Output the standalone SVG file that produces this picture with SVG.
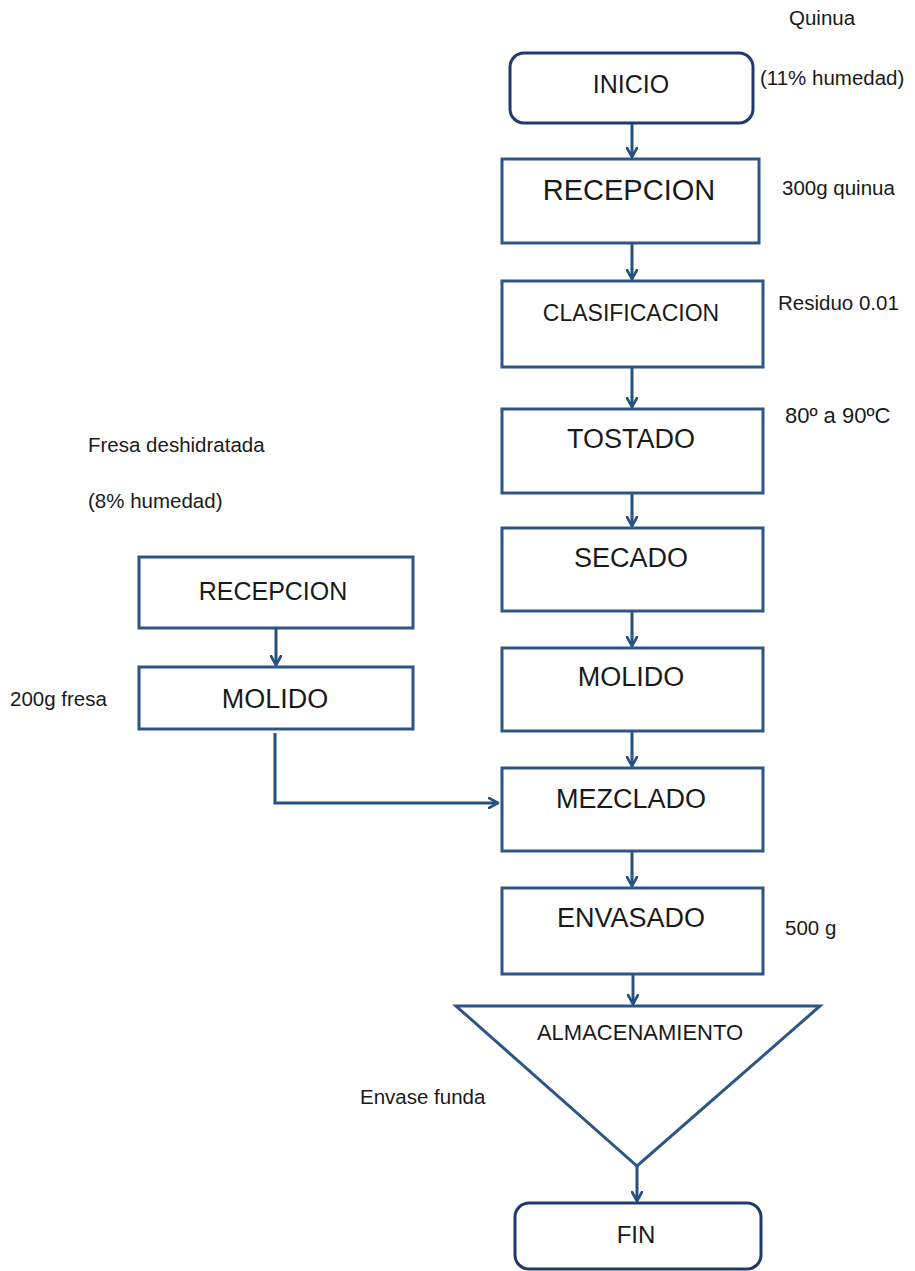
<svg xmlns="http://www.w3.org/2000/svg" width="915" height="1271" viewBox="0 0 915 1271">
<defs>
<marker id="ah" viewBox="0 0 12 12" refX="10" refY="6" markerWidth="12" markerHeight="12" markerUnits="userSpaceOnUse" orient="auto">
<path d="M1,1 L10,6 L1,11" fill="none" stroke="#245180" stroke-width="2.6" stroke-linecap="round" stroke-linejoin="round"/>
</marker>
<style>
.box{fill:#fff;stroke:#2F5586;stroke-width:3}
.term{fill:#fff;stroke:#1F3A6B;stroke-width:3}
.big{font-family:"Liberation Sans",Arial,sans-serif;font-size:27px;fill:#1a1a1a;text-anchor:middle}
.lbl{font-family:"Liberation Sans",Arial,sans-serif;font-size:20.5px;fill:#1a1a1a}
.conn{fill:none;stroke:#245180;stroke-width:3;marker-end:url(#ah)}
</style>
</defs>
<rect width="915" height="1271" fill="#fff"/>
<g id="connectors">
<line class="conn" x1="632" y1="124" x2="632" y2="157"/>
<line class="conn" x1="632" y1="244" x2="632" y2="279"/>
<line class="conn" x1="632" y1="368" x2="632" y2="407"/>
<line class="conn" x1="632" y1="494" x2="632" y2="526"/>
<line class="conn" x1="632" y1="612" x2="632" y2="646"/>
<line class="conn" x1="632" y1="732" x2="632" y2="766"/>
<line class="conn" x1="632" y1="852" x2="632" y2="886"/>
<line class="conn" x1="633" y1="975" x2="633" y2="1004"/>
<line class="conn" x1="637" y1="1166" x2="637" y2="1201"/>
<line class="conn" x1="276" y1="629" x2="276" y2="665"/>
<path class="conn" d="M275,733 L275,803 L498,803"/>
</g>
<g id="inicio">
<rect class="term" x="510" y="53" width="243" height="70" rx="14"/>
<text class="big" x="631" y="93" style="font-size:25px">INICIO</text>
</g>
<g id="recepcion1">
<rect class="box" x="502" y="159" width="257" height="84"/>
<text class="big" x="629" y="200" style="font-size:29px">RECEPCION</text>
</g>
<g id="clasificacion">
<rect class="box" x="502" y="281" width="261" height="86"/>
<text class="big" x="631" y="321" style="font-size:23px">CLASIFICACION</text>
</g>
<g id="tostado">
<rect class="box" x="502" y="409" width="261" height="84"/>
<text class="big" x="631" y="448">TOSTADO</text>
</g>
<g id="secado">
<rect class="box" x="502" y="528" width="261" height="83"/>
<text class="big" x="631" y="567">SECADO</text>
</g>
<g id="molido1">
<rect class="box" x="502" y="648" width="261" height="83"/>
<text class="big" x="631" y="686">MOLIDO</text>
</g>
<g id="mezclado">
<rect class="box" x="502" y="768" width="261" height="83"/>
<text class="big" x="631" y="808">MEZCLADO</text>
</g>
<g id="envasado">
<rect class="box" x="502" y="888" width="261" height="86"/>
<text class="big" x="631" y="927">ENVASADO</text>
</g>
<g id="almacenamiento">
<polygon class="box" points="456,1006 820,1006 637,1166"/>
<text class="big" x="640" y="1040" style="font-size:22px">ALMACENAMIENTO</text>
</g>
<g id="fin">
<rect class="term" x="515" y="1203" width="246" height="66" rx="14"/>
<text class="big" x="636" y="1243" style="font-size:24px">FIN</text>
</g>
<g id="recepcion2">
<rect class="box" x="139" y="557" width="274" height="71"/>
<text class="big" x="273" y="600" style="font-size:25px">RECEPCION</text>
</g>
<g id="molido2">
<rect class="box" x="139" y="667" width="274" height="62"/>
<text class="big" x="275" y="708">MOLIDO</text>
</g>
<g id="labels">
<text class="lbl" x="789" y="25">Quinua</text>
<text class="lbl" x="760" y="85">(11% humedad)</text>
<text class="lbl" x="782" y="195">300g quinua</text>
<text class="lbl" x="778" y="310">Residuo 0.01</text>
<text class="lbl" x="785" y="423" style="font-size:22px">80º a 90ºC</text>
<text class="lbl" x="88" y="452">Fresa deshidratada</text>
<text class="lbl" x="88" y="508">(8% humedad)</text>
<text class="lbl" x="10" y="706">200g fresa</text>
<text class="lbl" x="785" y="935">500 g</text>
<text class="lbl" x="360" y="1104">Envase funda</text>
</g>
</svg>
